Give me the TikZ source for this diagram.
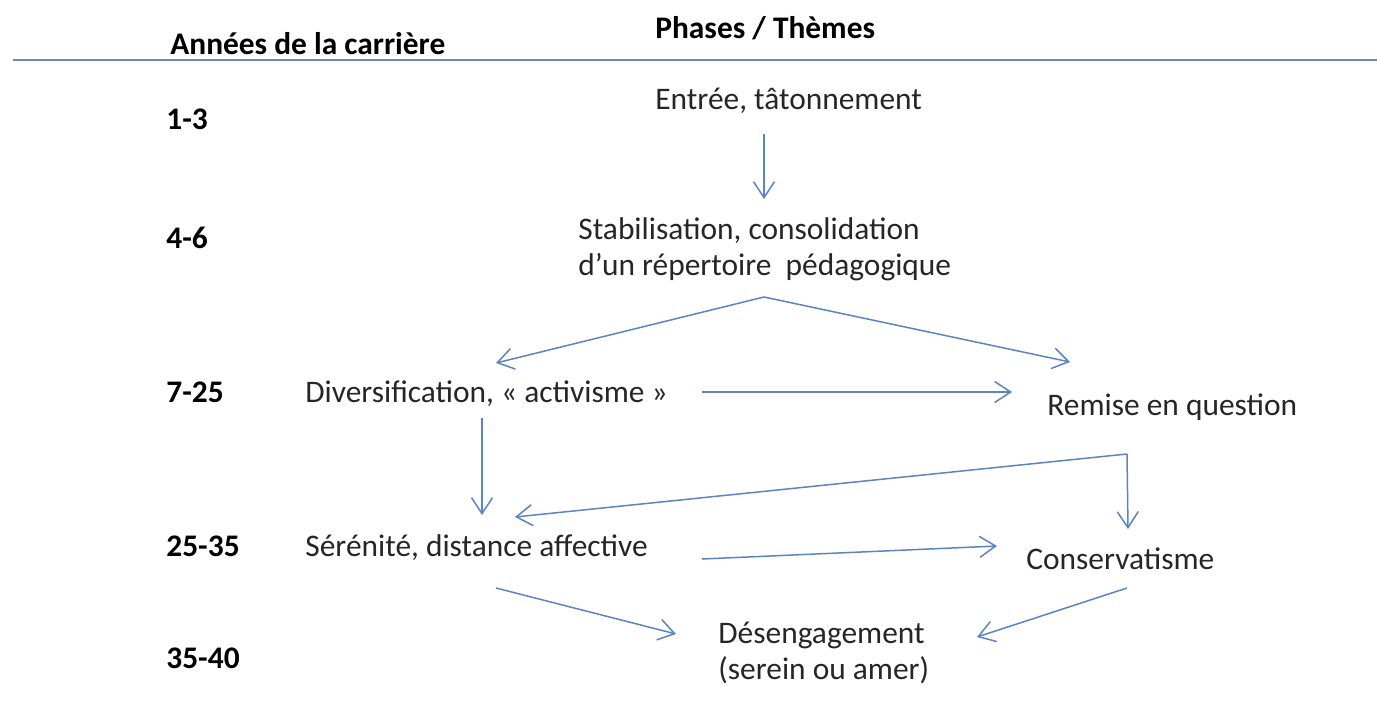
\documentclass[tikz,border=0pt]{standalone}
\usepackage{fontspec}
\setmainfont{Carlito}
\usetikzlibrary{arrows.meta}
\definecolor{arrowblue}{RGB}{92,132,192}
\definecolor{rulecol}{RGB}{112,140,168}
\definecolor{txt}{RGB}{38,38,38}
\tikzset{
  lbl/.style={anchor=base west, inner sep=0pt, text=txt, font=\fontsize{15.7}{18}\selectfont, align=left},
  hdr/.style={anchor=base west, inner sep=0pt, text=black, font=\fontsize{15.7}{18}\selectfont\bfseries},
  yr/.style={anchor=base west, inner sep=0pt, text=black, font=\fontsize{15.7}{18}\selectfont\bfseries},
  arr/.style={draw=arrowblue, line width=0.75pt, -{Straight Barb[length=8pt,width=10.5pt]}},
}
\begin{document}
\begin{tikzpicture}[x=0.5pt,y=-0.5pt]
\useasboundingbox (0,0) rectangle (1377,719);
\fill[white] (0,0) rectangle (1377,719);
% headers
\node[hdr] (phases) at (655,38) {Phases / Thèmes};
\node[hdr] (annees) at (170,54) {Années de la carrière};
\coordinate (ruleL) at (13,60);
\coordinate (ruleR) at (1377,60);
\draw[rulecol, line width=1.25pt] (ruleL) -- (ruleR);
% years
\node[yr] (y1) at (166,129) {1-3};
\node[yr] (y2) at (166,248) {4-6};
\node[yr] (y3) at (166,402) {7-25};
\node[yr] (y4) at (166,556) {25-35};
\node[yr] (y5) at (166,668) {35-40};
% phases (base anchor = baseline of the last line)
\node[lbl] (entree) at (655,109) {Entrée, tâtonnement};
\node[lbl] (stab) at (578,275) {Stabilisation, consolidation\\d’un répertoire~ pédagogique};
\node[lbl] (divers) at (305,402) {Diversification, « activisme »};
\node[lbl] (remise) at (1047,415) {Remise en question};
\node[lbl] (seren) at (305,556) {Sérénité, distance affective};
\node[lbl] (conserv) at (1026,569) {Conservatisme};
\node[lbl] (desen) at (718,679) {Désengagement\\(serein ou amer)};
% connector end points
\coordinate (a1s) at (764,134);
\coordinate (a1e) at (764,199);
\coordinate (apex) at (764,297);
\coordinate (a2e) at (496,363);
\coordinate (a3e) at (1070,362);
\coordinate (a4s) at (702,392);
\coordinate (a4e) at (1012,392);
\coordinate (a5s) at (482,418);
\coordinate (a5e) at (482,515);
\coordinate (corner) at (1127,454);
\coordinate (a6e) at (515,517);
\coordinate (a7e) at (1128,529);
\coordinate (a8s) at (702,559);
\coordinate (a8e) at (997,546);
\coordinate (a9s) at (496,588);
\coordinate (a9e) at (676,634);
\coordinate (a10s) at (1127,588);
\coordinate (a10e) at (977,637);
% connectors
\draw[arr] (a1s) -- (a1e);
\draw[arr] (apex) -- (a2e);
\draw[arr] (apex) -- (a3e);
\draw[arr] (a4s) -- (a4e);
\draw[arr] (a5s) -- (a5e);
\draw[arr] (corner) -- (a6e);
\draw[arr] (corner) -- (a7e);
\draw[arr] (a8s) -- (a8e);
\draw[arr] (a9s) -- (a9e);
\draw[arr] (a10s) -- (a10e);
\end{tikzpicture}
\end{document}
